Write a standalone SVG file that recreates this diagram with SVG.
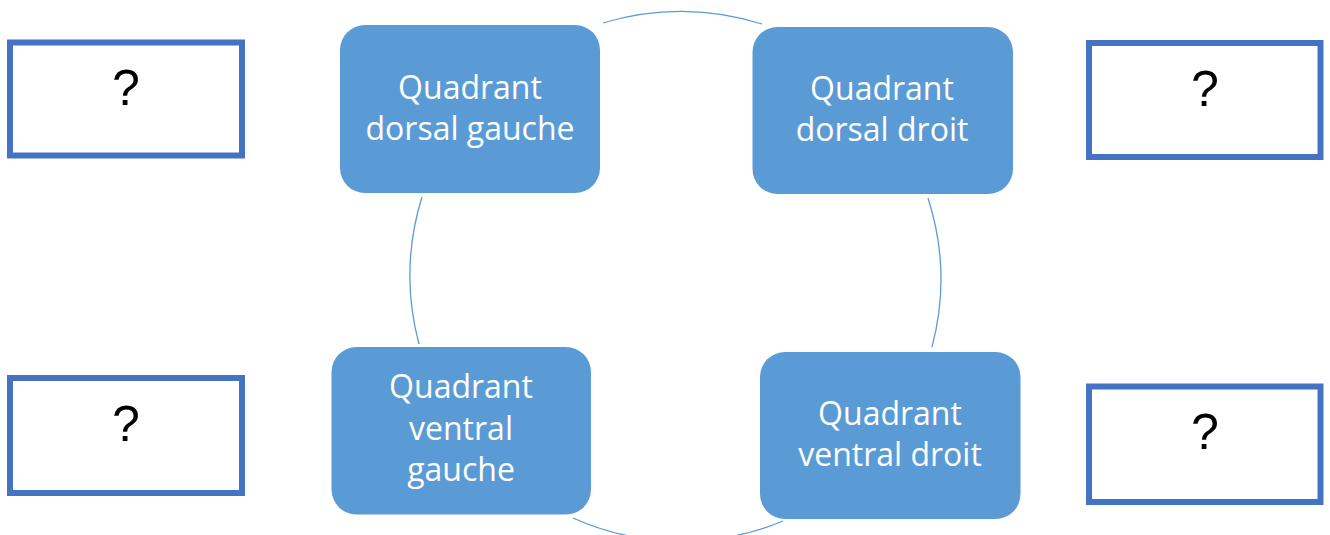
<svg xmlns="http://www.w3.org/2000/svg" width="1330" height="535" viewBox="0 0 1330 535">
<style>
.bg{fill:#ffffff}
.node{fill:#5B9BD5}
.ntext{fill:#ffffff;font-family:"Open Sans","Noto Sans",sans-serif;font-size:32px;text-anchor:middle}
.qbox{fill:#ffffff;stroke:#4472C4;stroke-width:6}
.qtext{fill:#000000;font-family:"Liberation Sans",Arial,sans-serif;font-size:50px;text-anchor:middle}
.arc{fill:none;stroke:#5B9BD5;stroke-width:1.3}
</style>
<rect class="bg" x="0" y="0" width="1330" height="535"/>
<g id="connectors">
<path class="arc" d="M603,23 A265,265 0 0,1 762,24"/>
<path class="arc" d="M928,198 A265,265 0 0,1 932,347"/>
<path class="arc" d="M783,521 A265,265 0 0,1 573,518"/>
<path class="arc" d="M422,197 A265,265 0 0,0 419,344"/>
</g>
<g id="node-dorsal-gauche">
<rect class="node" x="340" y="25" width="260" height="168" rx="25" ry="25"/>
<text class="ntext" x="470" y="98.5">Quadrant</text>
<text class="ntext" x="470" y="140">dorsal gauche</text>
</g>
<g id="node-dorsal-droit">
<rect class="node" x="752.5" y="27" width="260.5" height="167" rx="25" ry="25"/>
<text class="ntext" x="882" y="99.5">Quadrant</text>
<text class="ntext" x="882" y="141">dorsal droit</text>
</g>
<g id="node-ventral-gauche">
<rect class="node" x="331.5" y="347" width="259.5" height="167.5" rx="25" ry="25"/>
<text class="ntext" x="461" y="397.5">Quadrant</text>
<text class="ntext" x="461" y="439.5">ventral</text>
<text class="ntext" x="461" y="481">gauche</text>
</g>
<g id="node-ventral-droit">
<rect class="node" x="760" y="352" width="260.5" height="167" rx="25" ry="25"/>
<text class="ntext" x="890" y="424.5">Quadrant</text>
<text class="ntext" x="890" y="466">ventral droit</text>
</g>
<g id="box-top-left">
<rect class="qbox" x="10" y="42.5" width="232" height="113"/>
<text class="qtext" x="126" y="105">?</text>
</g>
<g id="box-top-right">
<rect class="qbox" x="1089" y="43" width="231.5" height="114"/>
<text class="qtext" x="1205" y="106">?</text>
</g>
<g id="box-bottom-left">
<rect class="qbox" x="10" y="378" width="232" height="115"/>
<text class="qtext" x="126" y="441">?</text>
</g>
<g id="box-bottom-right">
<rect class="qbox" x="1089" y="386.5" width="231.5" height="115.5"/>
<text class="qtext" x="1205" y="448.5">?</text>
</g>
</svg>
